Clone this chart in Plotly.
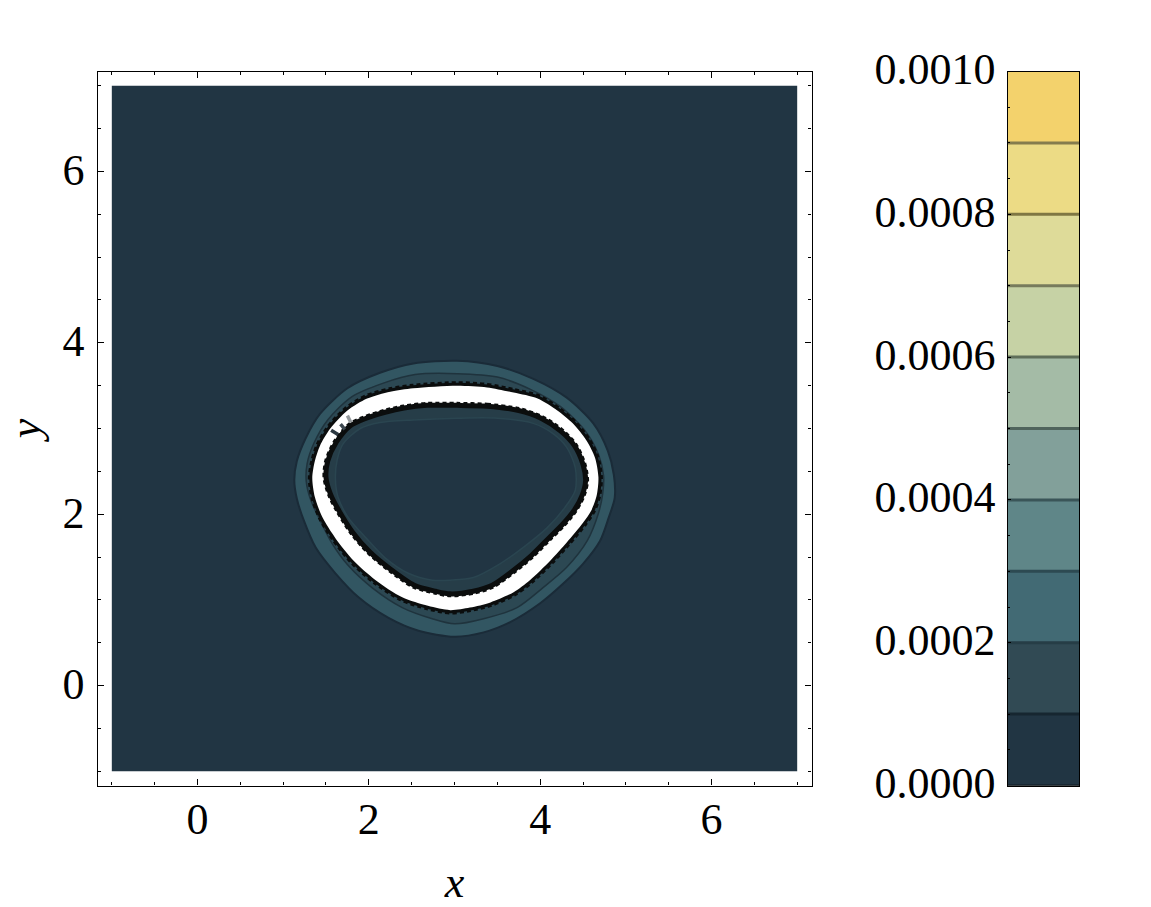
import plotly.graph_objects as go

W, H = 1151, 907
FONT = "Liberation Serif"

# colour-bar bands
levels = [0.0, 0.0001, 0.0002, 0.0003, 0.0004, 0.0005, 0.0006, 0.0007, 0.0008, 0.0009, 0.001]
band_colors = ["#213543", "#314a54", "#426a74", "#5f8688", "#82a09a", "#a4bba6",
               "#c6d2a5", "#dedb99", "#ecdb85", "#f3d26c"]
sep_colors = ["#162630", "#263d46", "#2d4a52", "#3a5558", "#50645c", "#5f6f5a",
              "#777b5c", "#7f7743", "#857c4d"]
cbar_ticks = [0.0, 0.0002, 0.0004, 0.0006, 0.0008, 0.001]

# sampled domain
domain_x = [-1, 7, 7, -1]
domain_y = [-1, -1, 7, 7]

# traced contour curves
outer_x = [3.03, 3.50, 3.92, 4.31, 4.62, 4.79, 4.86, 4.87, 4.80, 4.70, 4.50, 4.27, 4.00, 3.65, 3.34, 3.00, 2.58, 2.23, 1.88, 1.61, 1.38, 1.24, 1.16, 1.13, 1.16, 1.26, 1.43, 1.75, 2.13, 2.52]
outer_y = [3.79, 3.73, 3.58, 3.36, 3.06, 2.74, 2.46, 2.19, 1.96, 1.69, 1.42, 1.19, 0.96, 0.74, 0.62, 0.57, 0.64, 0.79, 1.03, 1.31, 1.61, 1.93, 2.18, 2.40, 2.62, 2.88, 3.17, 3.47, 3.65, 3.76]

band_x = [3.03, 3.50, 3.88, 4.23, 4.52, 4.68, 4.74, 4.73, 4.68, 4.55, 4.31, 4.03, 3.73, 3.34, 3.00, 2.74, 2.39, 2.04, 1.76, 1.57, 1.43, 1.32, 1.27, 1.28, 1.36, 1.52, 1.80, 2.17, 2.54]
band_y = [3.64, 3.60, 3.46, 3.26, 2.98, 2.70, 2.45, 2.24, 2.01, 1.69, 1.38, 1.14, 0.91, 0.78, 0.72, 0.78, 0.91, 1.14, 1.40, 1.66, 1.93, 2.17, 2.38, 2.59, 2.83, 3.10, 3.37, 3.53, 3.63]

peak_outer_x = [3.03, 3.38, 3.69, 3.97, 4.20, 4.38, 4.54, 4.64, 4.68, 4.66, 4.60, 4.50, 4.31, 4.12, 3.88, 3.69, 3.42, 3.18, 2.95, 2.69, 2.39, 2.08, 1.82, 1.61, 1.46, 1.37, 1.34, 1.37, 1.43, 1.55, 1.75, 1.98, 2.25, 2.52]
peak_outer_y = [3.50, 3.48, 3.42, 3.35, 3.21, 3.06, 2.86, 2.66, 2.43, 2.22, 2.05, 1.90, 1.67, 1.46, 1.23, 1.09, 0.97, 0.91, 0.88, 0.93, 1.03, 1.23, 1.46, 1.72, 1.96, 2.20, 2.42, 2.62, 2.80, 3.00, 3.21, 3.35, 3.43, 3.47]

peak_inner_x = [3.03, 3.38, 3.75, 4.01, 4.24, 4.40, 4.50, 4.53, 4.49, 4.40, 4.26, 4.10, 3.90, 3.67, 3.44, 3.22, 2.95, 2.78, 2.53, 2.25, 2.01, 1.81, 1.64, 1.55, 1.50, 1.52, 1.62, 1.78, 1.97, 2.19, 2.41, 2.68]
peak_inner_y = [3.27, 3.26, 3.21, 3.12, 2.97, 2.80, 2.58, 2.39, 2.22, 2.05, 1.88, 1.72, 1.52, 1.33, 1.17, 1.10, 1.07, 1.10, 1.17, 1.36, 1.56, 1.79, 2.06, 2.24, 2.43, 2.62, 2.84, 3.03, 3.12, 3.19, 3.24, 3.27]

hole_x = [3.03, 3.50, 3.92, 4.15, 4.31, 4.41, 4.41, 4.29, 4.08, 3.80, 3.53, 3.22, 2.95, 2.74, 2.46, 2.19, 1.96, 1.76, 1.64, 1.61, 1.63, 1.70, 1.90, 2.13, 2.52]
hole_y = [3.12, 3.12, 3.06, 2.94, 2.78, 2.54, 2.28, 2.08, 1.84, 1.61, 1.42, 1.26, 1.23, 1.23, 1.31, 1.49, 1.73, 1.96, 2.20, 2.42, 2.63, 2.82, 3.00, 3.07, 3.10]

# short artefact strokes on the upper-left of the ring
notch1_x, notch1_y = [1.56, 1.64], [2.98, 2.93]
notch2_x, notch2_y = [1.67, 1.72], [3.05, 2.99]
notch3_x, notch3_y = [1.75, 1.79], [3.15, 3.07]

x_ticks = [0, 2, 4, 6]
y_ticks = [0, 2, 4, 6]

BG = band_colors[0]
SMOOTH = 0.8


def closed(a):
    return a + a[:1]


def poly(x, y, fill, line=None, width=0, dash=None, smooth=True):
    return go.Scatter(
        x=closed(x), y=closed(y), mode="lines", fill="toself", fillcolor=fill,
        line=dict(color=line or fill, width=width, dash=dash,
                  shape="spline" if smooth else "linear", smoothing=SMOOTH if smooth else None),
        hoverinfo="skip", showlegend=False, xaxis="x", yaxis="y",
    )


def outline(x, y, color, width, dash=None):
    return go.Scatter(
        x=closed(x), y=closed(y), mode="lines",
        line=dict(color=color, width=width, dash=dash, shape="spline", smoothing=SMOOTH),
        hoverinfo="skip", showlegend=False, xaxis="x", yaxis="y",
    )


fig = go.Figure()
fig.add_trace(poly(domain_x, domain_y, BG, smooth=False))
fig.add_trace(poly(outer_x, outer_y, "#325662", "#1a2b38", 2))
fig.add_trace(poly(band_x, band_y, "#2c4853", "#1f333d", 1.5))
fig.add_trace(poly(peak_outer_x, peak_outer_y, "#0b0d0d", "#0b0d0d", 6))
fig.add_trace(outline(peak_outer_x, peak_outer_y, "#0b0d0d", 9, "4px,3px"))
fig.add_trace(poly(peak_outer_x, peak_outer_y, "#ffffff"))
fig.add_trace(outline(peak_inner_x, peak_inner_y, "#0b0d0d", 7, "4px,3px"))
fig.add_trace(poly(peak_inner_x, peak_inner_y, "#263d48", "#0b0d0d", 5))
fig.add_trace(poly(hole_x, hole_y, BG, "#2a4550", 1.5))
for nx, ny, c in [(notch1_x, notch1_y, "#2b3740"), (notch2_x, notch2_y, "#3d4850"), (notch3_x, notch3_y, "#959a9d")]:
    fig.add_trace(go.Scatter(x=nx, y=ny, mode="lines", line=dict(color=c, width=3.5),
                             hoverinfo="skip", showlegend=False, xaxis="x", yaxis="y"))

for i, c in enumerate(band_colors):
    fig.add_trace(go.Bar(x=[0], y=[levels[i + 1] - levels[i]], base=[levels[i]], width=[1],
                         marker=dict(color=c, line=dict(color=c, width=1)),
                         hoverinfo="skip", showlegend=False, xaxis="x2", yaxis="y2"))
for lv, c in zip(levels[1:-1], sep_colors):
    fig.add_trace(go.Scatter(x=[-0.5, 0.5], y=[lv, lv], mode="lines", line=dict(color=c, width=3),
                             hoverinfo="skip", showlegend=False, xaxis="x2", yaxis="y2"))
fig.add_trace(go.Scatter(x=[-0.5, 0.5], y=[levels[0], levels[0]], mode="lines",
                         line=dict(color="#000000", width=1.5), cliponaxis=False,
                         hoverinfo="skip", showlegend=False, xaxis="x2", yaxis="y2"))

tick_font = dict(family=FONT, size=44, color="#000000")
title_font = dict(family=FONT, size=44, color="#000000")
main_axis = dict(
    automargin=False,
    showgrid=False, zeroline=False, showline=True, linecolor="#000000", linewidth=1.2,
    mirror="allticks", ticks="inside", ticklen=6, tickwidth=1, tickcolor="#000000",
    tickfont=tick_font,
    minor=dict(ticks="inside", ticklen=3.5, tickwidth=1, tickcolor="#000000", dtick=0.5, tick0=0, showgrid=False),
)

fig.update_layout(
    width=W, height=H, autosize=False,
    margin=dict(l=0, r=0, t=0, b=0),
    paper_bgcolor="#ffffff", plot_bgcolor="#ffffff",
    barmode="overlay",
    showlegend=False,
    xaxis=dict(main_axis, domain=[97.5 / W, 811.5 / W], range=[-1.167, 7.167],
               tickvals=x_ticks, ticklabelstandoff=-5,
               title=dict(text="<i>x</i>", font=title_font, standoff=22)),
    yaxis=dict(main_axis, domain=[1 - 785.5 / H, 1 - 71.5 / H], range=[-1.167, 7.167],
               tickvals=y_ticks, ticklabelstandoff=3, ticklabelshift=-2,
               title=dict(text="<i>y</i>", font=title_font, standoff=8)),
    xaxis2=dict(automargin=False, domain=[1007.5 / W, 1079 / W], range=[-0.5, 0.5], anchor="y2",
                showgrid=False, zeroline=False, showline=True, linecolor="#000000", linewidth=1.2,
                mirror=True, ticks="", showticklabels=False),
    yaxis2=dict(automargin=False, domain=[1 - 785.5 / H, 1 - 71.5 / H], range=[0, 0.001], anchor="x2",
                showgrid=False, zeroline=False, showline=True, linecolor="#000000", linewidth=1.2,
                mirror=True, ticks="inside", ticklen=3, tickwidth=1, tickcolor="#000000",
                tickvals=cbar_ticks, tickformat=".4f", tickfont=tick_font,
                ticklabelstandoff=2, ticklabelshift=-3,
                minor=dict(ticks="inside", ticklen=2, tickwidth=1, tickcolor="#000000", dtick=0.00005, tick0=0, showgrid=False)),
)

fig.write_html("out.html", config={"displayModeBar": False}, post_script="document.body.style.margin='0';")
